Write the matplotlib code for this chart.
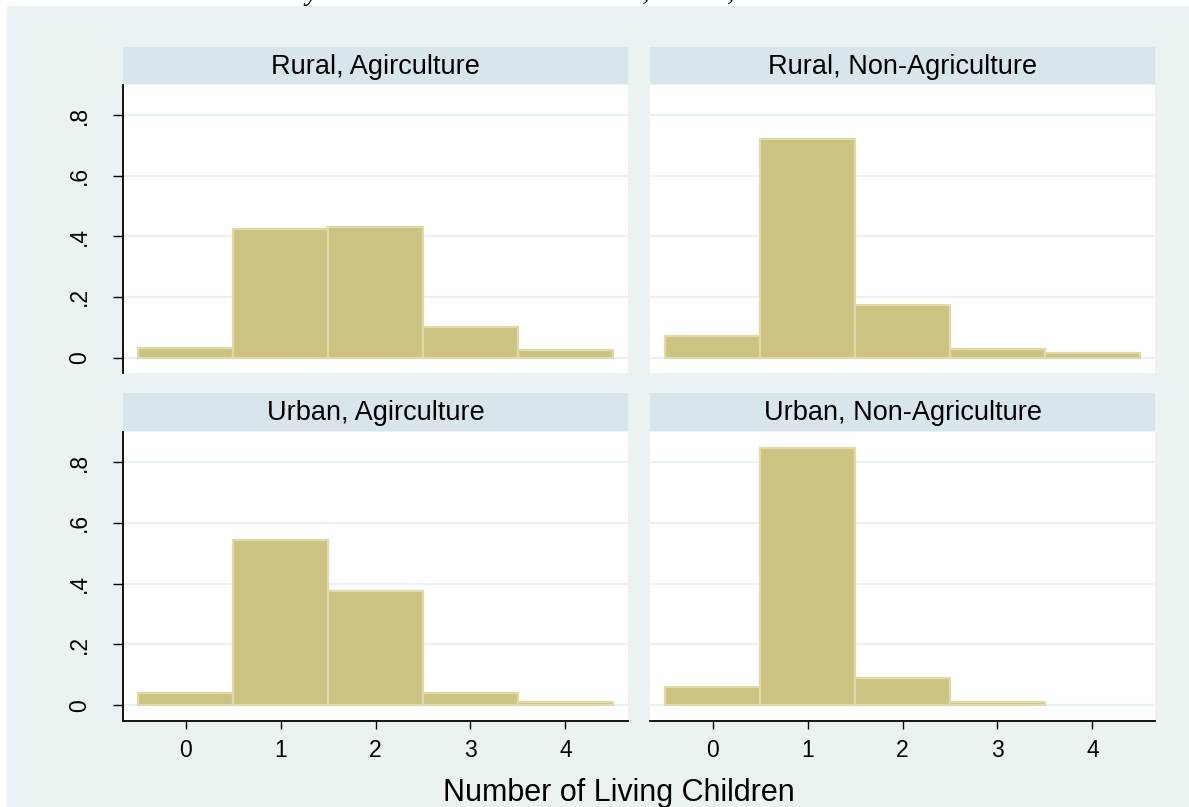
import matplotlib
matplotlib.use("Agg")
import matplotlib.pyplot as plt
from matplotlib.patches import Rectangle

# Share of respondents by number of living children (density per bin)
children = [0, 1, 2, 3, 4]
rural_agri = [0.031, 0.425, 0.429, 0.102, 0.026]
rural_nonagri = [0.072, 0.722, 0.173, 0.028, 0.014]
urban_agri = [0.040, 0.545, 0.375, 0.040, 0.010]
urban_nonagri = [0.059, 0.846, 0.088, 0.012, 0.0]

panel_titles = ["Rural, Agirculture", "Rural, Non-Agriculture",
                "Urban, Agirculture", "Urban, Non-Agriculture"]
y_ticks = [0, 0.2, 0.4, 0.6, 0.8]
y_ticklabels = ["0", ".2", ".4", ".6", ".8"]
x_label = "Number of Living Children"
subtitle = "by Residence and Hukou Status, CHNS, 1989"

W, H = 1189, 807
plt.rcParams["font.family"] = ["Liberation Sans", "DejaVu Sans"]

BG = "#EAF2F3"
STRIP = "#D8E5EA"
BAR = "#CBC382"
BAR_EDGE = "#DFDAA8"

fig = plt.figure(figsize=(W / 100, H / 100), dpi=100)
fig.patch.set_facecolor("white")
# graph region, inset from the white page edge
fig.patches.append(Rectangle((7 / W, 0), 1 - 7 / W, 1 - 6 / H,
                             transform=fig.transFigure, facecolor=BG,
                             edgecolor="none", zorder=-10))

fig.text(0.458, 1 + 0.5 / H, subtitle, ha="center", va="baseline",
         fontsize=20, family="Liberation Serif", style="italic",
         zorder=-5)


def rect(x0, y0, x1, y1):
    return [x0 / W, 1 - y1 / H, (x1 - x0) / W, (y1 - y0) / H]


cols = [(123, 628), (650, 1155)]
rows = [((46.7, 84.3), (85, 373.3)), ((393.3, 431), (432, 721))]
series = [rural_agri, rural_nonagri, urban_agri, urban_nonagri]

for i, (title, vals) in enumerate(zip(panel_titles, series)):
    r, c = divmod(i, 2)
    (sx0, sx1) = cols[c]
    (sy, py) = rows[r]

    sax = fig.add_axes(rect(sx0, sy[0], sx1, sy[1]))
    sax.set_facecolor(STRIP)
    sax.set_xticks([])
    sax.set_yticks([])
    for s in sax.spines.values():
        s.set_visible(False)
    sax.text(0.5, 0.47, title, ha="center", va="center", fontsize=19.5,
             transform=sax.transAxes)

    ax = fig.add_axes(rect(sx0, py[0], sx1, py[1]))
    ax.set_facecolor("white")
    # empty bins draw nothing
    xs = [k for k, v in zip(children, vals) if v > 0]
    hs = [v for v in vals if v > 0]
    ax.bar(xs, hs, width=1.0, color=BAR, edgecolor=BAR_EDGE,
           linewidth=1.6, zorder=3)
    ax.set_xlim(-0.66, 4.66)
    ax.set_ylim(-0.052, 0.899)
    ax.set_yticks(y_ticks)
    ax.set_xticks(children)
    ax.grid(axis="y", color=BG, linewidth=1.6, zorder=1)
    ax.set_axisbelow(True)
    for s in ax.spines.values():
        s.set_visible(False)

    if c == 0:
        ax.spines["left"].set_visible(True)
        ax.spines["left"].set_linewidth(1.3)
        ax.set_yticklabels(y_ticklabels, rotation=90, va="center",
                           fontsize=16.5)
        ax.tick_params(axis="y", length=7.2, width=1.0, pad=16)
    else:
        ax.tick_params(axis="y", length=0, labelleft=False)

    if r == 1:
        ax.spines["bottom"].set_visible(True)
        ax.spines["bottom"].set_linewidth(1.3)
        ax.set_xticklabels([str(k) for k in children], fontsize=16.5)
        ax.tick_params(axis="x", length=6, width=1.0, pad=7)
    else:
        ax.tick_params(axis="x", length=0, labelbottom=False)

fig.text(619 / W, 1 - 801 / H, x_label, ha="center", va="baseline",
         fontsize=22)

fig.savefig("out.png", dpi=100, facecolor=fig.get_facecolor())
